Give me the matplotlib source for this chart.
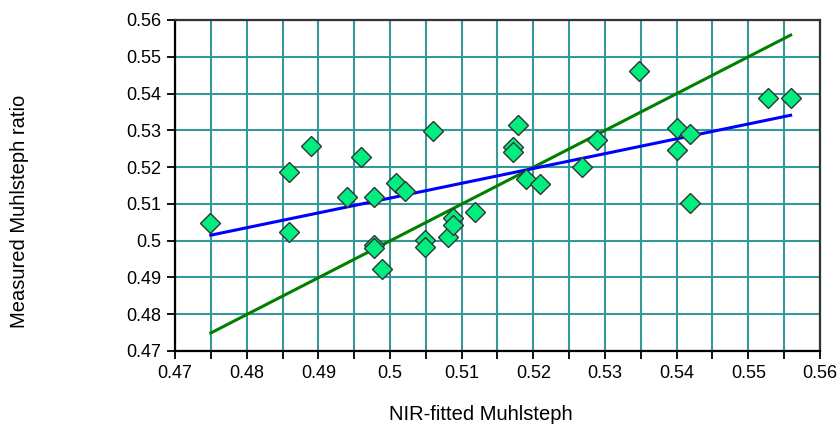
import matplotlib
matplotlib.use('Agg')
import matplotlib.pyplot as plt
import numpy as np
from matplotlib.ticker import MultipleLocator

plt.rcParams['font.family'] = ['Liberation Sans', 'DejaVu Sans']

# Measured vs NIR-fitted points
nir_fitted = [0.4749, 0.4859, 0.4859, 0.4890, 0.4940, 0.4960, 0.4978, 0.4978,
              0.4978, 0.4989, 0.5009, 0.5021, 0.5049, 0.5049, 0.5060, 0.5081,
              0.5088, 0.5088, 0.5118, 0.5171, 0.5171, 0.5178, 0.5190, 0.5209,
              0.5268, 0.5289, 0.5348, 0.5400, 0.5400, 0.5419, 0.5419, 0.5528,
              0.5559]
measured = [0.5048, 0.5186, 0.5023, 0.5257, 0.5118, 0.5227, 0.5118, 0.4988,
            0.4981, 0.4923, 0.5157, 0.5135, 0.5002, 0.4983, 0.5298, 0.5010,
            0.5061, 0.5042, 0.5078, 0.5254, 0.5241, 0.5314, 0.5168, 0.5154,
            0.5200, 0.5273, 0.5461, 0.5306, 0.5246, 0.5290, 0.5102, 0.5388,
            0.5388]

# regression line (blue) and 1:1 line (green) end points
fit_x = [0.4750, 0.5559]
fit_y = [0.5015, 0.5341]
ident_x = [0.4750, 0.5559]
ident_y = [0.4749, 0.5559]

fig = plt.figure(figsize=(8.4, 4.28), dpi=100)
ax = fig.add_axes([175 / 840, 77 / 428, 645 / 840, 331 / 428])

ax.set_xlim(0.47, 0.56)
ax.set_ylim(0.47, 0.56)
ax.xaxis.set_major_locator(MultipleLocator(0.01))
ax.xaxis.set_minor_locator(MultipleLocator(0.005))
ax.yaxis.set_major_locator(MultipleLocator(0.01))
ax.xaxis.set_major_formatter(plt.FuncFormatter(lambda v, p: ('%.2f' % v).rstrip('0')))
ax.yaxis.set_major_formatter(plt.FuncFormatter(lambda v, p: ('%.2f' % v).rstrip('0')))

grid_col = '#339999'
ax.grid(True, which='major', axis='both', color=grid_col, lw=1.5)
ax.grid(True, which='minor', axis='x', color=grid_col, lw=1.5)
ax.set_axisbelow(True)

ax.tick_params(which='both', direction='out', length=6, width=1.3, color='black',
               labelsize=13, pad=4)

ax.plot(ident_x, ident_y, color='#008000', lw=2.2, zorder=3)
ax.plot(fit_x, fit_y, color='#0000ff', lw=2.2, zorder=3)
ax.plot(nir_fitted, measured, linestyle='none', marker='D', markersize=10,
        markerfacecolor='#00ee80', markeredgecolor='#333333', markeredgewidth=1.0,
        zorder=4, clip_on=False)

for side in ['left', 'bottom']:
    ax.spines[side].set_color('black')
    ax.spines[side].set_linewidth(1.6)
for side in ['top', 'right']:
    ax.spines[side].set_color('#333333')
    ax.spines[side].set_linewidth(1.6)

fig.text(20 / 840, 1 - 211 / 428, 'Measured Muhlsteph ratio', rotation=90,
         ha='center', va='center', fontsize=14.5)
fig.text(481 / 840, 1 - 414 / 428, 'NIR-fitted Muhlsteph', ha='center',
         va='center', fontsize=14.5)

fig.savefig('out.png', dpi=100)
